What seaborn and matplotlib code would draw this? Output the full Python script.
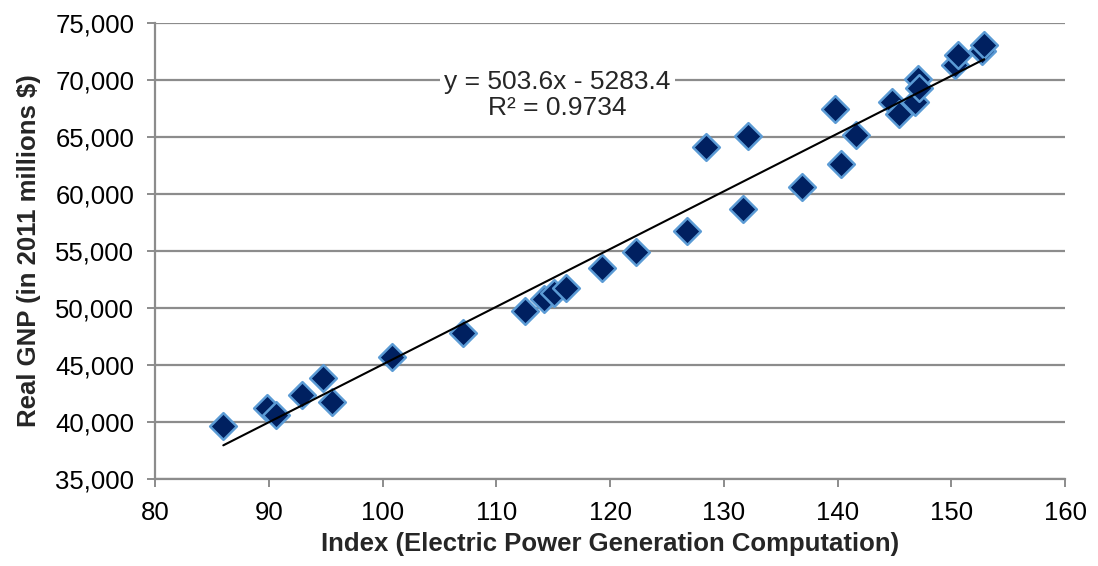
import numpy as np
import pandas as pd
import matplotlib
matplotlib.use("Agg")
import matplotlib.pyplot as plt
import seaborn as sns
from matplotlib.ticker import FuncFormatter

# values
index_vals = [86.0, 89.8, 90.6, 92.9, 94.8, 95.6, 100.8, 107.1, 112.5, 114.2,
              115.1, 116.1, 119.3, 122.3, 126.8, 128.4, 131.7, 132.1, 136.9, 139.8,
              140.3, 141.6, 144.8, 145.4, 146.8, 147.1, 147.2, 150.3, 150.6, 152.7,
              152.9]
gnp_vals = [39600, 41200, 40600, 42350, 43850, 41750, 45700, 47800, 49750, 50750,
            51300, 51750, 53500, 54850, 56750, 64100, 58650, 65100, 60600, 67400,
            62600, 65150, 68050, 67000, 68050, 70100, 69250, 71300, 72200, 72550,
            73050]
eq_text = "y = 503.6x - 5283.4\nR\u00b2 = 0.9734"

df = pd.DataFrame({"Index": index_vals, "GNP": gnp_vals})

sns.set_style("white")
plt.rcParams['font.family'] = ['Liberation Sans', 'DejaVu Sans']

fig = plt.figure(figsize=(10.98, 5.66), dpi=100)
ax = fig.add_axes([0.1412, 0.1542, 0.8288, 0.8057])

grid_c = "#8c8c8c"
ax.set_axisbelow(True)
ax.yaxis.grid(True, color=grid_c, linewidth=1.6)

sns.scatterplot(data=df, x="Index", y="GNP", marker="D", s=185,
                color="#002060", edgecolor="#5b9bd5", linewidth=1.8,
                ax=ax, zorder=3)
sns.regplot(data=df, x="Index", y="GNP", scatter=False, ci=None, truncate=True,
            line_kws={"color": "black", "linewidth": 1.5, "zorder": 4}, ax=ax)

ax.set_xlim(80, 160)
ax.set_ylim(35000, 75000)
ax.set_xticks(range(80, 161, 10))
ax.set_yticks(range(35000, 75001, 5000))
ax.yaxis.set_major_formatter(FuncFormatter(lambda v, p: f"{int(v):,}"))

for s in ["top", "right"]:
    ax.spines[s].set_visible(False)
for s in ["left", "bottom"]:
    ax.spines[s].set_color(grid_c)
    ax.spines[s].set_linewidth(1.6)

ax.tick_params(axis="both", which="major", labelsize=18.5, length=6,
               width=1.4, color=grid_c, direction="out", labelcolor="black",
               bottom=True, left=True)
ax.tick_params(axis="x", pad=10)
ax.tick_params(axis="y", pad=9)

ax.set_xlabel("Index (Electric Power Generation Computation)", fontsize=18.5,
              fontweight="bold", labelpad=5)
ax.set_ylabel("Real GNP (in 2011 millions $)", fontsize=18.5,
              fontweight="bold", labelpad=10)

ax.text(0.442, 0.842, eq_text, transform=ax.transAxes, ha="center", va="center",
        fontsize=19, linespacing=1.1, zorder=5,
        bbox=dict(facecolor="white", edgecolor="none", pad=3))

fig.savefig("out.png", dpi=100)
